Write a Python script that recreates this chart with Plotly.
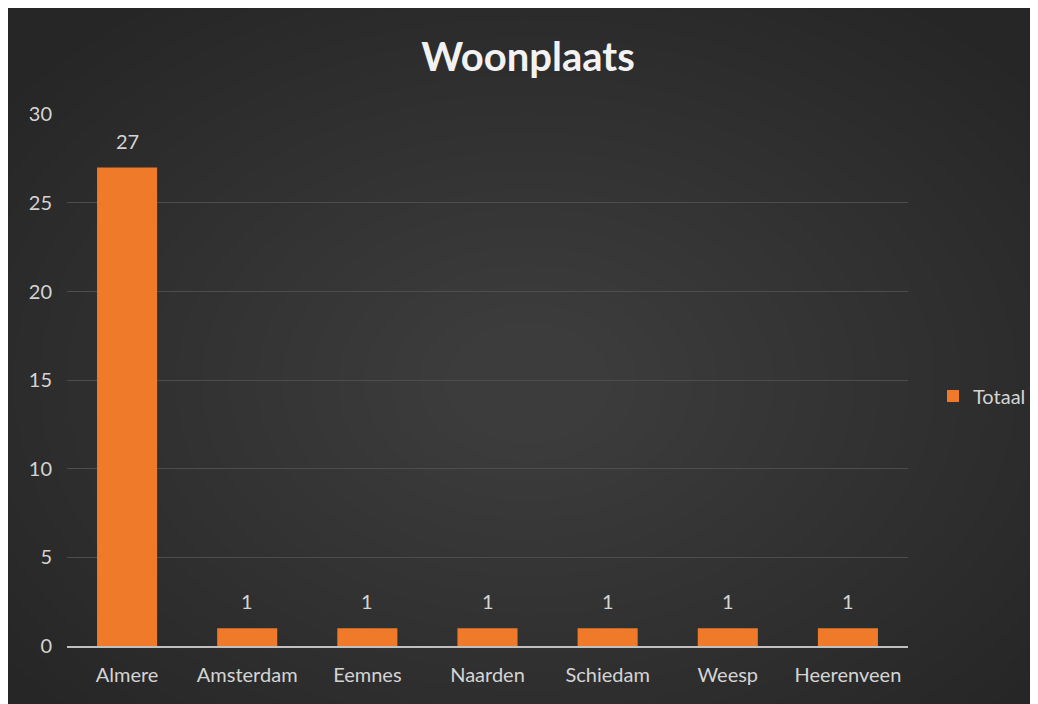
import plotly.graph_objects as go

categories = ["Almere", "Amsterdam", "Eemnes", "Naarden", "Schiedam", "Weesp", "Heerenveen"]
values = [27, 1, 1, 1, 1, 1, 1]
series_name = "Totaal"
title_text = "Woonplaats"
y_ticks = [0, 5, 10, 15, 20, 25, 30]

W, H = 1030, 696
L, R, T, B = 59, 130, 106, 58
pw, ph = W - L - R, H - T - B

def px_x(x):
    return (x - L) / pw

def px_y(y):
    return (H - B - y) / ph

FONT = "Lato, 'Noto Sans', sans-serif"
TXT = "#d4d4d4"

fig = go.Figure()
fig.add_trace(go.Bar(
    x=categories, y=values, name=series_name,
    marker=dict(color="#EF7B2A", line=dict(width=0)),
    showlegend=True,
))

# data labels placed above each bar
annotations = [dict(x=c, y=v, xref="x", yref="y", text=str(v), showarrow=False,
                    yshift=27, yanchor="middle",
                    font=dict(family=FONT, size=20, color=TXT))
               for c, v in zip(categories, values)]

shapes = [dict(type="rect", xref="paper", yref="paper",
               x0=px_x(-2), x1=px_x(W + 10), y0=px_y(H + 2), y1=px_y(-2),
               fillcolor="#262626", line=dict(width=0), layer="below")]
# soft radial glow approximating the background gradient
cx, cy = 520, 375
n = 22
for i in range(n):
    rx = 650 - i * 27
    ry = 460 - i * 19
    shapes.append(dict(type="circle", xref="paper", yref="paper",
                       x0=px_x(cx - rx), x1=px_x(cx + rx),
                       y0=px_y(cy + ry), y1=px_y(cy - ry),
                       fillcolor="rgba(255,255,255,0.0088)", line=dict(width=0), layer="below"))

fig.update_layout(
    width=W, height=H,
    margin=dict(l=L, r=R, t=T, b=B, autoexpand=False),
    paper_bgcolor="#262626", plot_bgcolor="rgba(0,0,0,0)",
    shapes=shapes,
    annotations=annotations,
    title=dict(text="<b>" + title_text + "</b>", x=px_x(520), xanchor="center",
               xref="paper", y=1 - 49 / H, yanchor="middle", yref="container",
               font=dict(family=FONT, size=40, color="#f2f2f2")),
    bargap=0.5,
    font=dict(family=FONT, color=TXT),
    legend=dict(x=px_x(925), xanchor="left", y=px_y(388), yanchor="middle",
                font=dict(family=FONT, size=20, color=TXT), bgcolor="rgba(0,0,0,0)"),
    xaxis=dict(showgrid=False, showline=True, linecolor="#c0c0c0", linewidth=1.5,
               tickfont=dict(family=FONT, size=20, color=TXT), ticks="",
               ticklabelstandoff=10, zeroline=False),
    yaxis=dict(range=[0, 30.02], tickvals=y_ticks, showgrid=True,
               gridcolor="#4d4d4d", gridwidth=1, zeroline=False, showline=False,
               tickfont=dict(family=FONT, size=20, color=TXT), ticks="",
               ticklabelstandoff=14),
)

fig.write_html("out.html")
